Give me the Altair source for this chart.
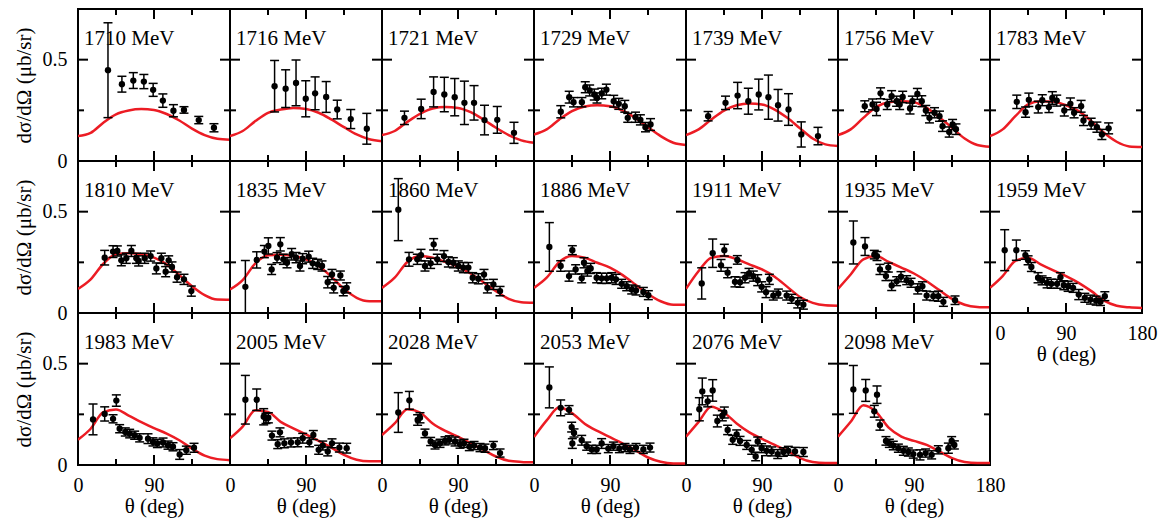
import altair as alt
import pandas as pd

FONT = "Liberation Serif"
RED = "#ec1c24"
PANEL_W = 152
PANEL_H = 152
MAJOR_LEN = 10
MINOR_LEN = 6

ENERGIES = [1710, 1716, 1721, 1729, 1739, 1756, 1783,
            1810, 1835, 1860, 1886, 1911, 1935, 1959,
            1983, 2005, 2028, 2053, 2076, 2098]

# model curve sampled on this angle grid (deg)
CURVE_THETA = [0, 15, 30, 45, 60, 75, 90, 105, 120, 135, 150, 165, 180]

# ---- 1710 MeV
T1710 = [35.5, 52, 65.5, 78, 89, 100.5, 113, 125.5, 143, 161]
Y1710 = [0.448, 0.379, 0.397, 0.392, 0.351, 0.298, 0.248, 0.252, 0.202, 0.164]
E1710 = [0.234, 0.039, 0.039, 0.035, 0.032, 0.033, 0.03, 0.016, 0.018, 0.02]
C1710 = [0.123, 0.139, 0.189, 0.23, 0.249, 0.256, 0.252, 0.232, 0.2, 0.16, 0.128, 0.11, 0.105]

# ---- 1716 MeV
T1716 = [52.8, 65.9, 78.2, 89.7, 100.8, 113.9, 127, 143, 162]
Y1716 = [0.369, 0.357, 0.385, 0.307, 0.334, 0.316, 0.254, 0.207, 0.159]
E1716 = [0.127, 0.093, 0.113, 0.089, 0.081, 0.076, 0.046, 0.047, 0.076]
C1716 = [0.123, 0.148, 0.197, 0.238, 0.254, 0.262, 0.257, 0.238, 0.205, 0.167, 0.131, 0.107, 0.098]

# ---- 1721 MeV
T1721 = [26.6, 46.4, 61.1, 73.8, 86.1, 97.6, 109, 121.4, 136.5, 156.3]
Y1721 = [0.213, 0.257, 0.341, 0.328, 0.315, 0.287, 0.287, 0.202, 0.203, 0.139]
E1721 = [0.033, 0.048, 0.074, 0.085, 0.092, 0.107, 0.085, 0.073, 0.066, 0.052]
C1721 = [0.128, 0.148, 0.193, 0.233, 0.259, 0.266, 0.262, 0.241, 0.205, 0.164, 0.128, 0.102, 0.09]

# ---- 1729 MeV
T1729 = [31.7, 41.7, 46.8, 56.7, 60.7, 65.9, 71.4, 74.6, 80.2, 85.7, 94.4, 100.4, 107.5, 111, 120.2, 126, 132, 138]
Y1729 = [0.243, 0.315, 0.29, 0.29, 0.364, 0.348, 0.328, 0.311, 0.333, 0.352, 0.295, 0.282, 0.27, 0.213, 0.216, 0.203, 0.167, 0.18]
E1729 = [0.03, 0.029, 0.023, 0.023, 0.027, 0.027, 0.027, 0.025, 0.026, 0.027, 0.029, 0.027, 0.029, 0.022, 0.025, 0.025, 0.023, 0.029]
C1729 = [0.131, 0.156, 0.205, 0.246, 0.269, 0.275, 0.27, 0.249, 0.213, 0.167, 0.123, 0.09, 0.079]

# ---- 1739 MeV
T1739 = [26.2, 46.8, 61.1, 73.8, 86.1, 97.6, 109, 121.4, 136.5, 156.3]
Y1739 = [0.221, 0.287, 0.323, 0.295, 0.328, 0.315, 0.275, 0.254, 0.131, 0.123]
E1739 = [0.023, 0.033, 0.065, 0.064, 0.076, 0.109, 0.078, 0.078, 0.062, 0.043]
C1739 = [0.128, 0.156, 0.205, 0.249, 0.275, 0.284, 0.279, 0.254, 0.213, 0.161, 0.111, 0.082, 0.074]

# ---- 1756 MeV
T1756 = [31.7, 40.9, 45.6, 50.4, 58.3, 63.5, 69.4, 73, 76.6, 85.3, 88.1, 94, 99.2, 104, 108.3, 114.3, 120.2, 123.8, 131.7, 135.7, 139.7]
Y1756 = [0.27, 0.279, 0.257, 0.334, 0.279, 0.32, 0.295, 0.279, 0.316, 0.259, 0.295, 0.331, 0.295, 0.249, 0.213, 0.238, 0.221, 0.172, 0.143, 0.18, 0.157]
E1756 = [0.027, 0.027, 0.033, 0.027, 0.025, 0.027, 0.025, 0.025, 0.028, 0.027, 0.025, 0.027, 0.027, 0.025, 0.025, 0.025, 0.025, 0.026, 0.025, 0.025, 0.026]
C1756 = [0.128, 0.156, 0.213, 0.266, 0.29, 0.295, 0.29, 0.262, 0.216, 0.164, 0.111, 0.079, 0.07]

# ---- 1783 MeV
T1783 = [31.7, 42.1, 46, 57.1, 61.9, 69.8, 73.8, 79, 88, 95.2, 99.6, 107.9, 110.7, 119.8, 126.6, 132.5, 140.5]
Y1783 = [0.292, 0.241, 0.302, 0.266, 0.3, 0.266, 0.311, 0.298, 0.249, 0.282, 0.238, 0.27, 0.2, 0.184, 0.167, 0.131, 0.161]
E1783 = [0.033, 0.025, 0.033, 0.029, 0.027, 0.027, 0.031, 0.027, 0.027, 0.029, 0.025, 0.029, 0.025, 0.027, 0.025, 0.025, 0.027]
C1783 = [0.123, 0.156, 0.221, 0.279, 0.295, 0.292, 0.275, 0.246, 0.197, 0.139, 0.095, 0.072, 0.069]

# ---- 1810 MeV
T1810 = [31.6, 41.5, 46.6, 51.3, 57.2, 63.2, 69.1, 71.8, 79, 86, 92.8, 98.7, 103.8, 107.4, 111.3, 117.3, 125.5, 134.2]
Y1810 = [0.273, 0.303, 0.306, 0.26, 0.27, 0.306, 0.27, 0.257, 0.27, 0.281, 0.22, 0.27, 0.204, 0.26, 0.227, 0.177, 0.166, 0.108]
E1810 = [0.036, 0.029, 0.025, 0.027, 0.025, 0.027, 0.025, 0.025, 0.025, 0.025, 0.027, 0.025, 0.025, 0.022, 0.025, 0.025, 0.025, 0.025]
C1810 = [0.119, 0.166, 0.243, 0.29, 0.295, 0.29, 0.273, 0.24, 0.187, 0.132, 0.088, 0.066, 0.065]

# ---- 1835 MeV
T1835 = [18.2, 31.6, 40.7, 45.4, 49.3, 55.7, 59.6, 63.2, 67.5, 73, 78.2, 82.9, 86, 93.2, 97.9, 103.8, 109, 115.7, 120.8, 122.8, 130.7, 134.2, 138.2]
Y1835 = [0.129, 0.262, 0.303, 0.331, 0.215, 0.273, 0.339, 0.265, 0.248, 0.29, 0.273, 0.232, 0.268, 0.278, 0.245, 0.24, 0.232, 0.152, 0.19, 0.124, 0.185, 0.108, 0.124]
E1835 = [0.13, 0.04, 0.03, 0.04, 0.025, 0.025, 0.033, 0.025, 0.025, 0.028, 0.025, 0.025, 0.025, 0.027, 0.025, 0.025, 0.025, 0.028, 0.025, 0.025, 0.022, 0.023, 0.025]
C1835 = [0.116, 0.162, 0.245, 0.285, 0.288, 0.281, 0.265, 0.232, 0.179, 0.119, 0.075, 0.058, 0.058]

# ---- 1860 MeV
T1860 = [19.3, 32, 41.8, 46.2, 50.9, 57.6, 61.2, 65.5, 73.4, 78.6, 84.5, 90.4, 96.3, 102.3, 107.4, 114.1, 120.8, 124.8, 131.9, 139.8]
Y1860 = [0.51, 0.265, 0.265, 0.286, 0.232, 0.245, 0.339, 0.265, 0.281, 0.252, 0.248, 0.232, 0.224, 0.224, 0.174, 0.169, 0.19, 0.124, 0.141, 0.108]
E1860 = [0.153, 0.034, 0.025, 0.028, 0.025, 0.025, 0.028, 0.025, 0.027, 0.025, 0.025, 0.025, 0.025, 0.025, 0.025, 0.025, 0.025, 0.025, 0.025, 0.023]
C1860 = [0.124, 0.174, 0.252, 0.281, 0.273, 0.252, 0.228, 0.195, 0.152, 0.108, 0.07, 0.053, 0.05]

# ---- 1886 MeV
T1886 = [18.2, 31.6, 41.5, 45.4, 49.3, 56.5, 59.2, 63.2, 67.1, 74.2, 80.1, 86.1, 92, 97.1, 103.8, 109.8, 115.7, 120.8, 129.5, 135.4]
Y1886 = [0.326, 0.232, 0.182, 0.31, 0.215, 0.171, 0.248, 0.207, 0.22, 0.174, 0.171, 0.171, 0.174, 0.166, 0.144, 0.132, 0.116, 0.111, 0.104, 0.088]
E1886 = [0.12, 0.026, 0.025, 0.022, 0.023, 0.022, 0.025, 0.025, 0.025, 0.025, 0.025, 0.025, 0.025, 0.025, 0.022, 0.022, 0.022, 0.022, 0.022, 0.022]
C1886 = [0.124, 0.174, 0.252, 0.281, 0.273, 0.248, 0.224, 0.187, 0.141, 0.094, 0.058, 0.041, 0.041]

# ---- 1911 MeV
T1911 = [18.6, 31.6, 41.5, 45.4, 49.3, 58, 60.8, 64, 69.9, 74.6, 79.7, 84.9, 89.6, 94.8, 98.7, 103.4, 109.4, 119.2, 125.1, 132.3, 139]
Y1911 = [0.146, 0.295, 0.235, 0.31, 0.199, 0.154, 0.262, 0.152, 0.174, 0.195, 0.182, 0.162, 0.129, 0.103, 0.166, 0.086, 0.096, 0.086, 0.07, 0.05, 0.041]
E1911 = [0.077, 0.07, 0.029, 0.029, 0.025, 0.025, 0.021, 0.025, 0.025, 0.025, 0.025, 0.027, 0.025, 0.027, 0.025, 0.022, 0.022, 0.022, 0.022, 0.025, 0.022]
C1911 = [0.119, 0.207, 0.273, 0.281, 0.265, 0.24, 0.215, 0.179, 0.129, 0.079, 0.05, 0.038, 0.036]

# ---- 1935 MeV
T1935 = [18.2, 32, 43, 46.2, 49.7, 56.8, 59.6, 63.6, 69.5, 74.6, 81.3, 86.5, 94.4, 99.9, 105, 112.9, 118.8, 124.8, 138.6]
Y1935 = [0.348, 0.328, 0.288, 0.281, 0.215, 0.182, 0.224, 0.136, 0.157, 0.179, 0.162, 0.149, 0.119, 0.132, 0.086, 0.083, 0.083, 0.055, 0.063]
E1935 = [0.106, 0.044, 0.021, 0.022, 0.025, 0.022, 0.022, 0.025, 0.022, 0.025, 0.022, 0.022, 0.025, 0.022, 0.022, 0.022, 0.025, 0.022, 0.021]
C1935 = [0.119, 0.19, 0.265, 0.281, 0.252, 0.224, 0.195, 0.157, 0.113, 0.07, 0.041, 0.03, 0.028]

# ---- 1959 MeV
T1959 = [17.4, 31.2, 41.9, 45.1, 49, 56.9, 61.7, 67.6, 72.7, 79.4, 83.4, 87.4, 92.5, 98.4, 105.1, 112.3, 119, 125.7, 130.8, 136]
Y1959 = [0.31, 0.31, 0.286, 0.26, 0.227, 0.174, 0.161, 0.149, 0.144, 0.144, 0.177, 0.137, 0.132, 0.124, 0.091, 0.075, 0.066, 0.061, 0.055, 0.083]
E1959 = [0.101, 0.05, 0.021, 0.022, 0.022, 0.025, 0.022, 0.025, 0.022, 0.022, 0.022, 0.022, 0.025, 0.022, 0.025, 0.022, 0.022, 0.022, 0.018, 0.022]
C1959 = [0.124, 0.182, 0.257, 0.273, 0.24, 0.21, 0.182, 0.149, 0.108, 0.061, 0.036, 0.028, 0.025]

# ---- 1983 MeV
T1983 = [17.8, 31.6, 41.5, 45.4, 49.3, 56, 61.2, 67.1, 73, 82.9, 88.8, 94, 100.7, 106.6, 112.5, 120.4, 128.3, 137.4]
Y1983 = [0.225, 0.252, 0.228, 0.318, 0.179, 0.163, 0.155, 0.147, 0.134, 0.13, 0.114, 0.106, 0.111, 0.098, 0.09, 0.052, 0.073, 0.085]
E1983 = [0.076, 0.035, 0.02, 0.028, 0.02, 0.02, 0.021, 0.02, 0.02, 0.024, 0.02, 0.02, 0.022, 0.02, 0.02, 0.024, 0.02, 0.022]
C1983 = [0.125, 0.179, 0.261, 0.274, 0.244, 0.212, 0.182, 0.155, 0.122, 0.081, 0.046, 0.029, 0.024]

# ---- 2005 MeV
T2005 = [18.2, 31.6, 39.9, 42.6, 45.4, 49.7, 56.5, 59.2, 64.4, 72.2, 80.1, 86.1, 94, 98.7, 105, 109.8, 115.7, 120.8, 129.5, 138.2]
Y2005 = [0.322, 0.322, 0.238, 0.23, 0.233, 0.145, 0.103, 0.161, 0.107, 0.111, 0.112, 0.132, 0.112, 0.148, 0.075, 0.096, 0.067, 0.107, 0.086, 0.083]
E2005 = [0.12, 0.053, 0.04, 0.025, 0.025, 0.022, 0.022, 0.022, 0.022, 0.022, 0.022, 0.024, 0.022, 0.022, 0.022, 0.022, 0.022, 0.022, 0.022, 0.024]
C2005 = [0.132, 0.189, 0.27, 0.262, 0.213, 0.181, 0.151, 0.119, 0.086, 0.05, 0.026, 0.018, 0.018]

# ---- 2028 MeV
T2028 = [19.3, 32.4, 42.2, 45, 50.9, 57.6, 62.8, 68.7, 74.6, 79.7, 86.5, 92.4, 97.1, 103.4, 109, 116.1, 122, 131.9, 139.8]
Y2028 = [0.259, 0.319, 0.222, 0.233, 0.156, 0.116, 0.099, 0.107, 0.119, 0.124, 0.116, 0.103, 0.107, 0.091, 0.096, 0.086, 0.083, 0.096, 0.059]
E2028 = [0.098, 0.044, 0.026, 0.025, 0.021, 0.02, 0.02, 0.02, 0.02, 0.02, 0.022, 0.02, 0.02, 0.02, 0.02, 0.02, 0.02, 0.02, 0.02]
C2028 = [0.148, 0.205, 0.275, 0.259, 0.205, 0.168, 0.14, 0.107, 0.075, 0.042, 0.021, 0.015, 0.013]

# ---- 2053 MeV
T2053 = [18.2, 31.6, 41.5, 44.6, 47.4, 45.4, 56.5, 62.4, 68.3, 74.2, 80.1, 88, 94, 101.1, 107.8, 113.7, 120.8, 129.5, 137.4]
Y2053 = [0.383, 0.282, 0.272, 0.187, 0.158, 0.106, 0.122, 0.093, 0.077, 0.077, 0.106, 0.081, 0.093, 0.081, 0.086, 0.077, 0.086, 0.077, 0.086]
E2053 = [0.101, 0.039, 0.021, 0.024, 0.02, 0.024, 0.024, 0.02, 0.02, 0.02, 0.024, 0.02, 0.02, 0.02, 0.02, 0.02, 0.02, 0.02, 0.022]
C2053 = [0.138, 0.22, 0.285, 0.256, 0.204, 0.168, 0.138, 0.106, 0.073, 0.037, 0.016, 0.008, 0.008]

# ---- 2076 MeV
T2076 = [15.8, 19.3, 25.7, 31.6, 37.1, 43, 45.4, 49.3, 55.3, 60, 64, 71.9, 77.8, 82.5, 84.9, 89.6, 95.5, 101.5, 108.6, 115.3, 121.2, 129.1, 139]
Y2076 = [0.275, 0.363, 0.314, 0.368, 0.217, 0.243, 0.259, 0.173, 0.124, 0.151, 0.119, 0.099, 0.075, 0.042, 0.116, 0.083, 0.07, 0.067, 0.054, 0.064, 0.07, 0.067, 0.064]
E2076 = [0.057, 0.066, 0.027, 0.053, 0.029, 0.025, 0.027, 0.023, 0.022, 0.022, 0.022, 0.022, 0.022, 0.021, 0.022, 0.022, 0.024, 0.022, 0.022, 0.021, 0.022, 0.02, 0.022]
C2076 = [0.14, 0.213, 0.287, 0.259, 0.205, 0.161, 0.129, 0.099, 0.07, 0.034, 0.015, 0.01, 0.01]

# ---- 2098 MeV
T2098 = [18.2, 32.8, 43, 46.2, 49.7, 56.8, 60.8, 65.5, 71.5, 77.4, 83.3, 89.2, 97.1, 103.8, 110.9, 118.8, 130.7, 134.6, 137.8]
Y2098 = [0.373, 0.368, 0.265, 0.347, 0.197, 0.119, 0.107, 0.096, 0.083, 0.07, 0.064, 0.054, 0.05, 0.059, 0.05, 0.075, 0.083, 0.119, 0.099]
E2098 = [0.118, 0.054, 0.029, 0.043, 0.025, 0.021, 0.02, 0.021, 0.02, 0.022, 0.02, 0.02, 0.025, 0.02, 0.02, 0.02, 0.025, 0.021, 0.02]
C2098 = [0.14, 0.213, 0.295, 0.262, 0.184, 0.14, 0.119, 0.099, 0.067, 0.034, 0.015, 0.01, 0.01]

# inward tick marks on all four sides
XTICKS_MAJOR = [90]
XTICKS_MINOR = [45, 135]
YTICKS_MAJOR = [0.5]
YTICKS_MINOR = [0.25]

PANEL_DATA = [
    (T1710, Y1710, E1710, C1710), (T1716, Y1716, E1716, C1716), (T1721, Y1721, E1721, C1721),
    (T1729, Y1729, E1729, C1729), (T1739, Y1739, E1739, C1739), (T1756, Y1756, E1756, C1756),
    (T1783, Y1783, E1783, C1783), (T1810, Y1810, E1810, C1810), (T1835, Y1835, E1835, C1835),
    (T1860, Y1860, E1860, C1860), (T1886, Y1886, E1886, C1886), (T1911, Y1911, E1911, C1911),
    (T1935, Y1935, E1935, C1935), (T1959, Y1959, E1959, C1959), (T1983, Y1983, E1983, C1983),
    (T2005, Y2005, E2005, C2005), (T2028, Y2028, E2028, C2028), (T2053, Y2053, E2053, C2053),
    (T2076, Y2076, E2076, C2076), (T2098, Y2098, E2098, C2098),
]

YTITLE = "dσ/dΩ (μb/sr)"
XTITLE = "θ (deg)"


def make_panel(idx, energy, T, Y, E, C):
    row, col = divmod(idx, 7)
    left = col == 0
    bottom = row == 2 or idx == 13
    last = idx in (13, 19)

    xscale = alt.Scale(domain=[0, 180], nice=False, zero=False)
    yscale = alt.Scale(domain=[0, 0.75], nice=False, zero=False)

    if bottom:
        kw = dict(values=[0, 90, 180] if last else [0, 90], ticks=False, domain=False,
                  grid=False, labelPadding=10, labelFlush=False, labelOverlap=False,
                  format="d", title=XTITLE, titlePadding=0)
        if idx == 13:
            kw["labelOffset"] = {"condition": {"test": "datum.value === 0", "value": 10}, "value": 0}
        xaxis = alt.Axis(**kw)
    else:
        xaxis = None
    if left:
        yaxis = alt.Axis(values=[0, 0.5], ticks=False, domain=False, grid=False,
                         labelPadding=11, labelFlush=False, labelOverlap=False,
                         labelExpr="format(datum.value, '~g')",
                         title=YTITLE, titlePadding=8)
    else:
        yaxis = None

    def X(field):
        return alt.X(field, type="quantitative", scale=xscale, axis=xaxis, title=XTITLE)

    def Yc(field):
        return alt.Y(field, type="quantitative", scale=yscale, axis=yaxis, title=YTITLE)

    pts = pd.DataFrame({
        "theta": T,
        "xs": Y,
        "lo": [y - e for y, e in zip(Y, E)],
        "hi": [y + e for y, e in zip(Y, E)],
    })
    cur = pd.DataFrame({"theta": CURVE_THETA, "xs": C})
    lab = pd.DataFrame({"label": [f"{energy} MeV"]})

    curve = alt.Chart(cur).mark_line(color=RED, strokeWidth=2.5, interpolate="monotone", clip=True).encode(
        x=X("theta"), y=Yc("xs"))
    bars = alt.Chart(pts).mark_rule(color="black", strokeWidth=1.5).encode(
        x=X("theta"), y=Yc("lo"), y2="hi:Q")
    cap_lo = alt.Chart(pts).mark_tick(color="black", orient="horizontal", size=9, thickness=1.5, opacity=1).encode(
        x=X("theta"), y=Yc("lo"))
    cap_hi = alt.Chart(pts).mark_tick(color="black", orient="horizontal", size=9, thickness=1.5, opacity=1).encode(
        x=X("theta"), y=Yc("hi"))
    dots = alt.Chart(pts).mark_circle(color="black", size=40, opacity=1).encode(
        x=X("theta"), y=Yc("xs"))
    text = alt.Chart(lab).mark_text(align="left", baseline="alphabetic", font=FONT, fontSize=21,
                                    color="black").encode(
        x=alt.value(6), y=alt.value(36), text="label:N")

    layers = [curve, bars, cap_lo, cap_hi, dots, text]
    for vals, ln in ((XTICKS_MAJOR, MAJOR_LEN), (XTICKS_MINOR, MINOR_LEN)):
        d = pd.DataFrame({"theta": vals})
        layers.append(alt.Chart(d).mark_rule(color="black", strokeWidth=2).encode(
            x=X("theta"), y=alt.value(PANEL_H), y2=alt.value(PANEL_H - ln)))
        layers.append(alt.Chart(d).mark_rule(color="black", strokeWidth=2).encode(
            x=X("theta"), y=alt.value(0), y2=alt.value(ln)))
    for vals, ln in ((YTICKS_MAJOR, MAJOR_LEN), (YTICKS_MINOR, MINOR_LEN)):
        d = pd.DataFrame({"xs": vals})
        layers.append(alt.Chart(d).mark_rule(color="black", strokeWidth=2).encode(
            y=Yc("xs"), x=alt.value(0), x2=alt.value(ln)))
        layers.append(alt.Chart(d).mark_rule(color="black", strokeWidth=2).encode(
            y=Yc("xs"), x=alt.value(PANEL_W), x2=alt.value(PANEL_W - ln)))

    return alt.layer(*layers).properties(width=PANEL_W, height=PANEL_H)


panels = [make_panel(i, e, *d) for i, (e, d) in enumerate(zip(ENERGIES, PANEL_DATA))]

chart = alt.concat(*panels, columns=7, spacing=0, bounds="flush").properties(
    padding={"left": 12, "top": 7, "right": 5, "bottom": 1},
    background="white",
).configure_view(
    stroke="black", strokeWidth=2
).configure_axis(
    labelFont=FONT, titleFont=FONT, labelFontSize=20, titleFontSize=21,
    titleFontWeight="normal", labelColor="black", titleColor="black"
)

chart.save("out.html", embed_options={"renderer": "svg", "actions": False})
